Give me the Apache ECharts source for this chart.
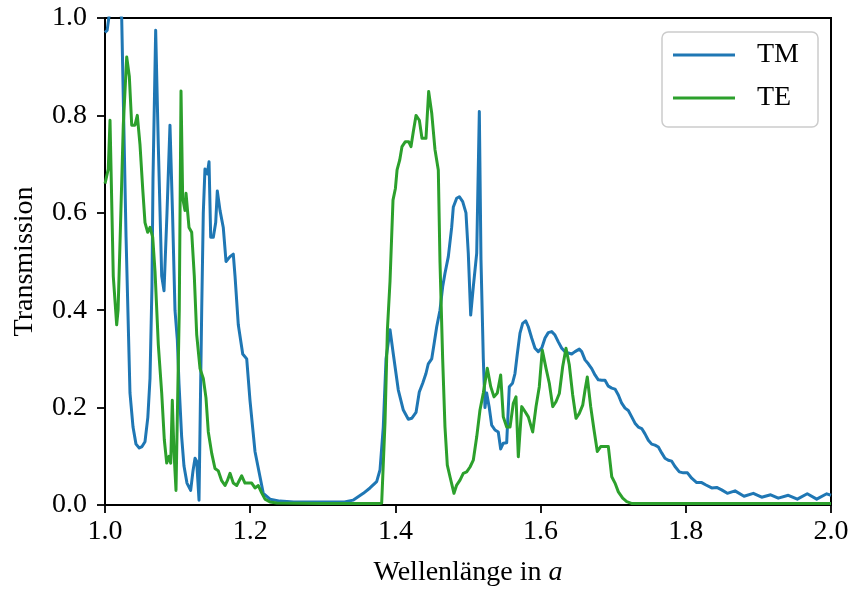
<!DOCTYPE html>
<html>
<head>
<meta charset="utf-8">
<script src="https://cdn.jsdelivr.net/npm/echarts@6/dist/echarts.min.js"></script>
<style>
html,body{margin:0;padding:0;background:#fff;}
#chart{width:851px;height:589px;}
</style>
</head>
<body>
<div id="chart"></div>
<script>
// Wavelength (in units of a) and transmission, TM polarisation
var tmLambda = [1.000,1.003,1.007,1.012,1.018,1.023,1.029,1.0344,1.0386,1.0427,1.0472,1.051,1.0551,1.059,1.062,1.0647,1.0661,1.0698,1.0734,1.0781,1.0813,1.0854,1.0895,1.093,1.0964,1.0996,1.1019,1.1056,1.1088,1.1129,1.118,1.1212,1.124,1.1263,1.1295,1.1332,1.1354,1.1377,1.1409,1.1433,1.1456,1.1492,1.1525,1.1547,1.1584,1.1629,1.1667,1.1722,1.1767,1.1791,1.1836,1.1897,1.1952,1.1997,1.2066,1.2135,1.218,1.2273,1.241,1.26,1.30,1.33,1.3416,1.3558,1.365,1.3742,1.3788,1.3833,1.3871,1.3926,1.3971,1.404,1.4109,1.4178,1.4225,1.4284,1.4329,1.4376,1.4421,1.4453,1.45,1.4532,1.4569,1.4614,1.4651,1.4683,1.4729,1.4775,1.4798,1.4844,1.488,1.4927,1.4972,1.5004,1.5037,1.5073,1.512,1.5156,1.5179,1.5211,1.5234,1.5257,1.5293,1.5326,1.5372,1.5417,1.545,1.5486,1.5533,1.5569,1.5613,1.5647,1.5679,1.5716,1.5753,1.5795,1.5831,1.5877,1.5923,1.5968,1.6015,1.6061,1.6106,1.6153,1.6198,1.6244,1.6291,1.6336,1.6382,1.6428,1.6474,1.6533,1.6566,1.6612,1.6657,1.6704,1.6749,1.6795,1.6842,1.6887,1.6933,1.698,1.7025,1.7071,1.7117,1.7163,1.7208,1.7255,1.73,1.7346,1.7393,1.7438,1.7484,1.753,1.7576,1.7622,1.7668,1.7713,1.7759,1.7806,1.7851,1.7911,1.7966,1.8023,1.8081,1.815,1.8219,1.8278,1.8357,1.8426,1.8494,1.8572,1.8678,1.8802,1.893,1.9045,1.9169,1.9274,1.9412,1.9536,1.9673,1.9803,1.9941,2.0];
var tmValues = [0.97,0.975,1.02,1.04,1.03,1.0,0.55,0.23,0.16,0.125,0.117,0.12,0.13,0.18,0.26,0.45,0.67,0.975,0.74,0.47,0.44,0.6,0.78,0.6,0.40,0.34,0.25,0.14,0.08,0.045,0.03,0.07,0.096,0.09,0.01,0.4,0.6,0.69,0.68,0.705,0.55,0.55,0.58,0.645,0.605,0.57,0.50,0.51,0.515,0.47,0.37,0.31,0.30,0.215,0.11,0.058,0.024,0.012,0.008,0.006,0.006,0.006,0.01,0.024,0.035,0.048,0.072,0.16,0.30,0.36,0.31,0.236,0.195,0.176,0.178,0.19,0.232,0.25,0.27,0.29,0.30,0.33,0.366,0.40,0.448,0.476,0.51,0.57,0.612,0.63,0.633,0.623,0.60,0.517,0.39,0.448,0.517,0.808,0.503,0.30,0.20,0.23,0.20,0.164,0.154,0.15,0.115,0.127,0.128,0.243,0.25,0.27,0.31,0.353,0.373,0.378,0.366,0.343,0.322,0.315,0.322,0.343,0.354,0.356,0.349,0.335,0.322,0.315,0.312,0.31,0.315,0.32,0.315,0.298,0.29,0.28,0.267,0.257,0.256,0.256,0.244,0.24,0.238,0.226,0.209,0.199,0.194,0.181,0.168,0.16,0.157,0.146,0.133,0.125,0.123,0.119,0.107,0.096,0.092,0.09,0.079,0.068,0.066,0.066,0.055,0.046,0.046,0.041,0.035,0.036,0.031,0.024,0.029,0.018,0.024,0.016,0.021,0.014,0.02,0.012,0.023,0.012,0.023,0.02];

// TE polarisation
var teLambda = [1.000,1.0045,1.0069,1.0114,1.0161,1.018,1.0207,1.0252,1.0299,1.0335,1.0368,1.0413,1.0445,1.0482,1.0519,1.0551,1.0588,1.062,1.0657,1.0689,1.0734,1.0781,1.0817,1.085,1.0882,1.0905,1.0927,1.095,1.0978,1.1001,1.1023,1.1047,1.107,1.1102,1.1116,1.1139,1.1157,1.1194,1.123,1.1263,1.1309,1.1354,1.1391,1.1423,1.147,1.1515,1.1561,1.1607,1.1653,1.1685,1.1722,1.1767,1.1814,1.1883,1.1928,1.1974,1.2021,1.2066,1.2112,1.2158,1.2204,1.2273,1.2365,1.30,1.35,1.378,1.3811,1.3857,1.389,1.3926,1.3967,1.4,1.4023,1.4059,1.4091,1.4137,1.4183,1.4215,1.4247,1.4284,1.433,1.4366,1.4421,1.4458,1.45,1.4545,1.4591,1.4614,1.4651,1.4683,1.4715,1.4752,1.4807,1.4844,1.489,1.4935,1.4982,1.5028,1.5073,1.512,1.5165,1.5211,1.5266,1.5313,1.5358,1.5404,1.545,1.5486,1.5533,1.5579,1.5624,1.5661,1.5693,1.574,1.5785,1.5831,1.5891,1.5937,1.5982,1.6023,1.6074,1.612,1.6167,1.6212,1.6258,1.6304,1.635,1.6395,1.6442,1.6488,1.6533,1.658,1.6612,1.6643,1.669,1.6736,1.6781,1.6828,1.688,1.6933,1.698,1.7025,1.7071,1.7131,1.7186,1.726,1.80,1.90,2.0];
var teValues = [0.66,0.69,0.79,0.47,0.37,0.40,0.54,0.78,0.92,0.88,0.78,0.78,0.80,0.74,0.65,0.58,0.56,0.57,0.55,0.48,0.33,0.23,0.134,0.086,0.1,0.086,0.215,0.11,0.03,0.03,0.40,0.85,0.63,0.605,0.64,0.64,0.57,0.56,0.47,0.35,0.28,0.26,0.22,0.15,0.106,0.075,0.07,0.05,0.04,0.05,0.065,0.045,0.04,0.06,0.045,0.045,0.045,0.035,0.04,0.025,0.012,0.006,0.004,0.003,0.003,0.003,0.004,0.17,0.36,0.46,0.626,0.65,0.688,0.708,0.736,0.746,0.746,0.736,0.767,0.80,0.79,0.753,0.753,0.849,0.805,0.73,0.688,0.50,0.30,0.16,0.082,0.058,0.024,0.041,0.051,0.065,0.068,0.078,0.092,0.14,0.195,0.23,0.281,0.243,0.222,0.23,0.267,0.181,0.16,0.16,0.209,0.222,0.099,0.202,0.192,0.181,0.15,0.202,0.243,0.318,0.281,0.25,0.202,0.212,0.229,0.284,0.322,0.288,0.226,0.178,0.188,0.205,0.236,0.263,0.202,0.154,0.11,0.12,0.12,0.12,0.058,0.045,0.027,0.014,0.007,0.003,0.003,0.003,0.003];

var seriesNames = ['TM', 'TE'];
var xTickMin = 1.0, xTickMax = 2.0, xTickStep = 0.2;
var yTickMin = 0.0, yTickMax = 1.0, yTickStep = 0.2;

function pairs(xs, ys) {
  var out = [];
  for (var i = 0; i < xs.length; i++) out.push([xs[i], ys[i]]);
  return out;
}

var FONT = 'Liberation Serif';
var chart = echarts.init(document.getElementById('chart'), null, {renderer: 'canvas'});
chart.setOption({
  animation: false,
  backgroundColor: '#ffffff',
  grid: {
    left: 105, right: 20, top: 18, bottom: 84,
    containLabel: false,
    outerBoundsMode: 'none',
    show: true, borderColor: '#000', borderWidth: 2, backgroundColor: 'transparent'
  },
  legend: {
    data: seriesNames,
    orient: 'vertical',
    left: 662, top: 32,
    padding: [8, 19, 14, 11],
    itemGap: 13,
    itemWidth: 62,
    itemHeight: 3,
    icon: 'rect',
    backgroundColor: 'rgba(255,255,255,0.8)',
    borderColor: '#cccccc',
    borderWidth: 1.5,
    borderRadius: 6,
    textStyle: {fontFamily: FONT, fontSize: 28, color: '#000', lineHeight: 30, padding: [0, 0, 0, 17]}
  },
  xAxis: {
    type: 'value',
    min: xTickMin, max: xTickMax, interval: xTickStep,
    name: '{n|Wellenlänge in }{i|a}',
    nameLocation: 'middle',
    nameGap: 54,
    nameTextStyle: {
      rich: {
        n: {fontFamily: FONT, fontSize: 28, color: '#000'},
        i: {fontFamily: FONT, fontSize: 28, fontStyle: 'italic', color: '#000'}
      }
    },
    axisLine: {show: true, lineStyle: {color: '#000', width: 2}},
    axisTick: {show: true, inside: false, length: 8, lineStyle: {color: '#000', width: 1.8}},
    axisLabel: {
      margin: 13, fontFamily: FONT, fontSize: 28, color: '#000',
      formatter: function (v) { return v.toFixed(1); }
    },
    splitLine: {show: false}
  },
  yAxis: {
    type: 'value',
    min: yTickMin, max: yTickMax, interval: yTickStep,
    name: 'Transmission',
    nameLocation: 'middle',
    nameGap: 66,
    nameTextStyle: {fontFamily: FONT, fontSize: 28, color: '#000'},
    axisLine: {show: true, lineStyle: {color: '#000', width: 2}},
    axisTick: {show: true, inside: false, length: 8, lineStyle: {color: '#000', width: 1.8}},
    axisLabel: {
      margin: 18, fontFamily: FONT, fontSize: 28, color: '#000',
      formatter: function (v) { return v.toFixed(1); }
    },
    splitLine: {show: false}
  },
  series: [
    {
      name: seriesNames[0], type: 'line', symbol: 'none', clip: true,
      data: pairs(tmLambda, tmValues),
      itemStyle: {color: '#1f77b4'},
      lineStyle: {color: '#1f77b4', width: 3, join: 'round'}
    },
    {
      name: seriesNames[1], type: 'line', symbol: 'none', clip: true,
      data: pairs(teLambda, teValues),
      itemStyle: {color: '#2ca02c'},
      lineStyle: {color: '#2ca02c', width: 3, join: 'round'}
    }
  ]
});
</script>
</body>
</html>
